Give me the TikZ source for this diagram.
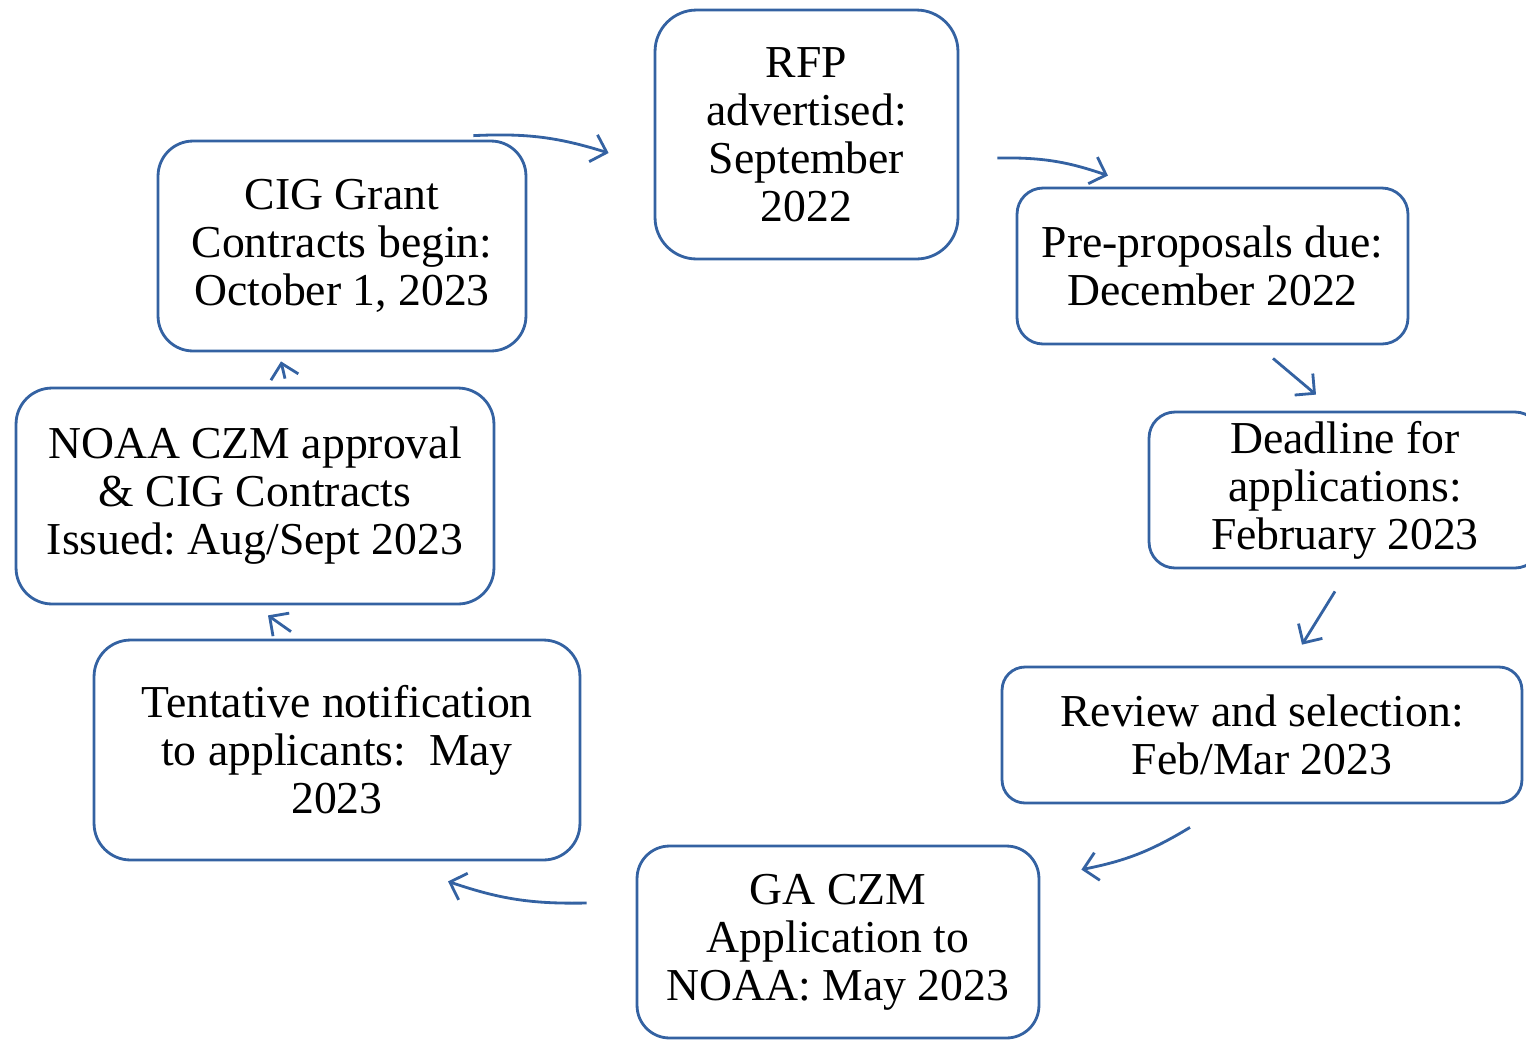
\documentclass[tikz,border=0pt]{standalone}
\usepackage{fontspec}
\setmainfont{Liberation Serif}
\frenchspacing
\usetikzlibrary{arrows.meta,calc}
\definecolor{myblue}{RGB}{52,98,162}
\tikzset{
mybox/.style={
  draw=myblue,
  line width=1.6pt,
  rounded corners=#1,
  align=center,
  inner sep=2pt,
  font=\fontsize{26}{27.3}\selectfont
  },
myarrow/.style={
  draw=myblue,
  line width=1.6pt,
  -{Straight Barb[length=8pt,width=16pt]}
  }
}

\begin{document}
\begin{tikzpicture}[x=0.02cm,y=-0.02cm]
\useasboundingbox (0,0) rectangle (1526,1039);
% the eight steps
\node[mybox=0.83cm,minimum width=6.06cm,minimum height=4.98cm] (rfp) at (806.5,134.5)
  {RFP\\advertised:\\September\\2022};
\node[mybox=0.52cm,minimum width=7.82cm,minimum height=3.12cm] (pre) at (1212.5,266)
  {Pre-proposals due:\\December 2022};
\node[mybox=0.52cm,minimum width=7.84cm,minimum height=3.12cm] (dead) at (1345,490)
  {Deadline for\\applications:\\February 2023};
\node[mybox=0.46cm,minimum width=10.4cm,minimum height=2.72cm] (rev) at (1262,735)
  {Review and selection:\\Feb/Mar 2023};
\node[mybox=0.65cm,minimum width=8.04cm,minimum height=3.84cm] (ga) at (838,942)
  {GA CZM\\Application to\\NOAA: May 2023};
\node[mybox=0.73cm,minimum width=9.72cm,minimum height=4.4cm] (tent) at (337,750)
  {Tentative notification\\to applicants:~ May\\2023};
\node[mybox=0.72cm,minimum width=9.56cm,minimum height=4.32cm] (noaa) at (255,496)
  {NOAA CZM approval\\\& CIG Contracts\\Issued: Aug/Sept 2023};
\node[mybox=0.7cm,minimum width=7.36cm,minimum height=4.2cm] (cig) at (342,246)
  {CIG Grant\\Contracts begin:\\October 1, 2023};

% arrow ends
\coordinate (a1) at ($(cig.north east)+(-54,-4)$);
\coordinate (a2) at ($(rfp.west)+(-45,18.5)$);
\coordinate (b1) at ($(rfp.east)+(38,23.5)$);
\coordinate (b2) at ($(pre.north)+(-104.5,-11)$);
\coordinate (c1) at ($(pre.south)+(60.5,13)$);
\coordinate (c2) at ($(dead.north)+(-29,-16)$);
\coordinate (d1) at ($(dead.south)+(-10,22)$);
\coordinate (d2) at ($(rev.north)+(40,-21)$);
\coordinate (e1) at ($(rev.south)+(-72,23)$);
\coordinate (e2) at ($(ga.north east)+(41,25)$);
\coordinate (f1) at ($(ga.west)+(-49,-39)$);
\coordinate (f2) at ($(tent.south)+(111,20)$);
\coordinate (g1) at ($(tent.north)+(-46,-7)$);
\coordinate (g2) at ($(noaa.south)+(13,10)$);
\coordinate (h1) at ($(noaa.north)+(30,-8)$);
\coordinate (h2) at ($(cig.south)+(-61,9)$);

% the cycle
\draw[myarrow] (a1) to[bend left=10] (a2);
\draw[myarrow] (b1) to[bend left=10] (b2);
\draw[myarrow] (c1) -- (c2);
\draw[myarrow] (d1) -- (d2);
\draw[myarrow] (e1) to[bend left=10] (e2);
\draw[myarrow] (f1) to[bend left=10] (f2);
\draw[myarrow] (g1) -- (g2);
\draw[myarrow] (h1) -- (h2);
\end{tikzpicture}
\end{document}
